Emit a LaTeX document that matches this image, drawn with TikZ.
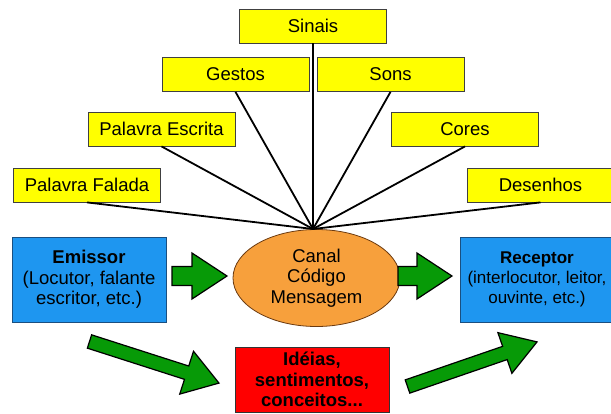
\documentclass[tikz,border=0pt]{standalone}
\usepackage{fontspec}
\setmainfont{Liberation Sans}
\usetikzlibrary{shapes.geometric}
\definecolor{ybox}{HTML}{FFFF00}
\definecolor{bbox}{HTML}{1E96F0}
\definecolor{bborder}{HTML}{1A4F80}
\definecolor{obox}{HTML}{F7A03C}
\definecolor{oborder}{HTML}{6B3A10}
\definecolor{garrow}{HTML}{079A07}
\definecolor{rbox}{HTML}{FF0000}
\begin{document}
\begin{tikzpicture}[x=1pt,y=-1pt,
  every node/.style={font=\fontsize{18.5}{20.5}\selectfont, align=center, inner sep=0pt},
  ybx/.style={draw=black!75, fill=ybox, line width=0.8pt, minimum width=147pt, minimum height=34pt},
  bbx/.style={draw=bborder, fill=bbox, line width=0.8pt, minimum width=154pt, minimum height=85pt},
  obx/.style={ellipse, draw=oborder, fill=obox, line width=0.8pt, minimum width=167pt, minimum height=97pt},
  rbx/.style={draw=black!80, fill=rbox, line width=0.8pt, minimum width=154pt, minimum height=65pt, font=\fontsize{18.5}{20.5}\selectfont\bfseries},
  spoke/.style={line width=1.8pt, black},
  garr/.style={draw=black, fill=garrow, line width=1.2pt, line join=miter}]
\useasboundingbox (0,0) rectangle (611,413);

% source boxes
\node[ybx] (sinais)  at (313,26)    {Sinais};
\node[ybx] (gestos)  at (235.5,74.5){Gestos};
\node[ybx] (sons)    at (390.5,74.5){Sons};
\node[ybx] (escrita) at (161.5,129) {Palavra Escrita};
\node[ybx] (cores)   at (465,129)   {Cores};
\node[ybx] (falada)  at (87,185)    {Palavra Falada};
\node[ybx] (desenhos)at (540.5,185) {Desenhos};

% main nodes
\node[bbx] (emissor)  at (89,279.5)  {\textbf{Emissor}\\(Locutor, falante\\escritor, etc.)};
\node[obx] (canal)    at (316.5,278) {Canal\\Código\\Mensagem};
\node[bbx] (receptor) at (537,279.5) {};
\node[font=\fontsize{17}{20}\selectfont] (receptortxt) at (537,279) {\textbf{Receptor}\\(interlocutor, leitor,\\ouvinte, etc.)};
\node[rbx] (ideias)   at (312,379.5) {Idéias,\\sentimentos,\\conceitos...};

% spokes
\coordinate (hub) at (313,229);
\foreach \n in {sinais,gestos,sons,escrita,cores,falada,desenhos}
  \draw[spoke] (\n.south) -- (hub);

% horizontal green arrows
\draw[garr] (172,266.5) -- (192,266.5) -- (192,253) -- (227,276) -- (192,299) -- (192,285.5) -- (172,285.5) -- cycle;
\draw[garr] (398,266.5) -- (417,266.5) -- (417,253) -- (452,276) -- (417,299) -- (417,285.5) -- (398,285.5) -- cycle;

% diagonal green arrows
\begin{scope}[shift={(89.5,341.5)}, rotate=-17.8]
  \draw[garr] (0,-7) -- (102,-7) -- (102,-22.5) -- (136,0) -- (102,22.5) -- (102,7) -- (0,7) -- cycle;
\end{scope}
\begin{scope}[shift={(407.5,386.5)}, rotate=19]
  \draw[garr] (0,-7) -- (103,-7) -- (103,-21.5) -- (137,0) -- (103,21.5) -- (103,7) -- (0,7) -- cycle;
\end{scope}
\end{tikzpicture}
\end{document}
